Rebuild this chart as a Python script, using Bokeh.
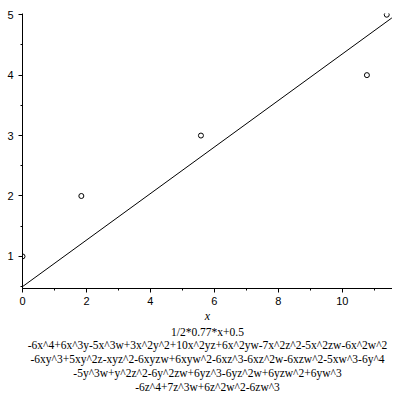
from bokeh.plotting import figure
from bokeh.models import Range1d, SingleIntervalTicker, Title
from bokeh.embed import file_html
from bokeh.resources import INLINE

# data points
pt_x = [0.0, 1.84, 5.58, 10.77, 11.39]
pt_y = [1, 2, 3, 4, 5]
# fitted line 1/2*0.77*x+0.5, endpoints
fit_x = [0.0, 11.55]
fit_y = [0.5, 4.947]

x_label = "x"
caption_lines = [
    "1/2*0.77*x+0.5",
    "-6x^4+6x^3y-5x^3w+3x^2y^2+10x^2yz+6x^2yw-7x^2z^2-5x^2zw-6x^2w^2",
    "-6xy^3+5xy^2z-xyz^2-6xyzw+6xyw^2-6xz^3-6xz^2w-6xzw^2-5xw^3-6y^4",
    "-5y^3w+y^2z^2-6y^2zw+6yz^3-6yz^2w+6yzw^2+6yw^3",
    "-6z^4+7z^3w+6z^2w^2-6zw^3",
]

SERIF = "Liberation Serif"
SANS = "Liberation Sans"

p = figure(width=392, height=392, output_backend="svg", toolbar_location=None,
           x_range=Range1d(0, 11.57), y_range=Range1d(0.469, 5.02),
           min_border_left=22, min_border_right=0, min_border_top=13, min_border_bottom=0)
p.outline_line_color = None
p.xgrid.visible = False
p.ygrid.visible = False
p.background_fill_color = "white"
p.border_fill_color = "white"

p.line(fit_x, fit_y, line_color="black", line_width=1)
p.scatter(pt_x, pt_y, marker="circle", size=5, fill_color=None, line_color="black", line_width=1)

p.xaxis.ticker = SingleIntervalTicker(interval=2, num_minor_ticks=2)
p.yaxis.ticker = SingleIntervalTicker(interval=1, num_minor_ticks=2)
for ax in (p.xaxis[0], p.yaxis[0]):
    ax.axis_line_color = "black"
    ax.major_tick_line_color = "black"
    ax.minor_tick_line_color = "black"
    ax.major_tick_out = 4
    ax.major_tick_in = 0
    ax.minor_tick_out = 2
    ax.minor_tick_in = 0
    ax.major_label_text_font = SANS
    ax.major_label_text_font_size = "11px"
    ax.major_label_text_color = "black"
    ax.major_label_standoff = 5
p.xaxis.major_label_standoff = 4

p.xaxis.axis_label = x_label
p.xaxis.axis_label_text_font = SERIF
p.xaxis.axis_label_text_font_style = "italic"
p.xaxis.axis_label_text_font_size = "12px"
p.xaxis.axis_label_text_color = "black"
p.xaxis.axis_label_standoff = 1

for i, line in enumerate(caption_lines):
    t = Title(text=line, align="center",
              text_font=SERIF, text_font_size="11.5px",
              text_font_style="normal", text_color="black", text_line_height=1.0,
              standoff=(-3 if i == 0 else 0), offset=0)
    p.add_layout(t, "below")

open("out.html", "w").write(file_html(p, INLINE))
